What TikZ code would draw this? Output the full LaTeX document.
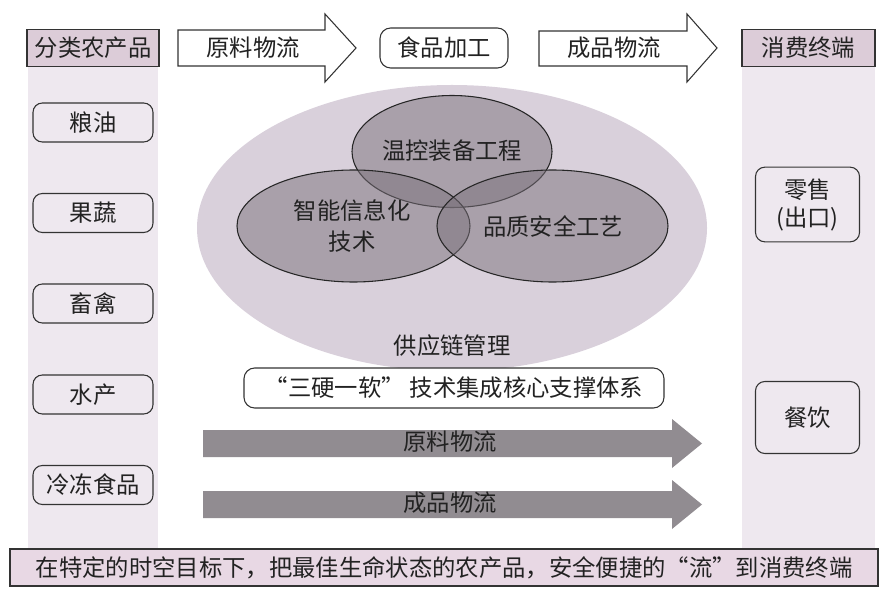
\documentclass[tikz,border=0pt]{standalone}
\usepackage{fontspec}
\setmainfont{Noto Sans CJK SC}
\usetikzlibrary{shapes.geometric}
\definecolor{colbg}{HTML}{EEE8EF}
\definecolor{headbg}{HTML}{DCCCD8}
\definecolor{bigell}{HTML}{D9D0DB}
\definecolor{smell}{HTML}{7A717B}
\definecolor{flowgray}{HTML}{918C91}
\definecolor{botbg}{HTML}{E8D8E4}
\definecolor{txt}{HTML}{222222}
\begin{document}
\begin{tikzpicture}[x=0.75pt,y=-0.75pt,
  every node/.style={text=txt,font=\fontsize{17.5pt}{21pt}\selectfont},
  headbox/.style={draw=black!80,line width=0.8pt,fill=headbg,minimum width=99pt,minimum height=27.75pt,inner sep=0pt},
  itembox/.style={draw=black!80,line width=0.8pt,rounded corners=7pt,minimum width=90pt,minimum height=29.25pt,inner sep=0pt},
  ritembox/.style={draw=black!80,line width=0.8pt,rounded corners=7pt,minimum width=78pt,inner sep=0pt,align=center},
  hollowarrow/.style={draw=black!80,line width=0.8pt,fill=white},
  grayarrow/.style={fill=flowgray,draw=none},
  venn/.style={ellipse,draw=black!85,line width=0.8pt,fill=smell,fill opacity=0.5,inner sep=0pt},
  lbl/.style={inner sep=0pt}]
\useasboundingbox (0,0) rectangle (891,591);
% columns
\fill[colbg] (28,30) rectangle (158,549);
\fill[colbg] (742,30) rectangle (875,549);
\node[headbox] (fenlei) at (93,48) {分类农产品};
\node[headbox,minimum width=99.75pt] (xiaofei) at (808.5,48) {消费终端};
% top hollow arrows
\draw[hollowarrow] (178,30) -- (325,30) -- (325,14) -- (356,48) -- (325,82) -- (325,66) -- (178,66) -- cycle;
\node[lbl] (yuanliao1) at (253,48) {原料物流};
\node[draw=black!80,line width=0.8pt,rounded corners=8pt,minimum width=96pt,minimum height=30pt,inner sep=0pt] (jiagong) at (444,48) {食品加工};
\draw[hollowarrow] (539,31) -- (687,31) -- (687,14) -- (717,48) -- (687,82) -- (687,66) -- (539,66) -- cycle;
\node[lbl] (chengpin1) at (614,48) {成品物流};
% left items
\node[itembox] (liangyou) at (93,122.5) {粮油};
\node[itembox] (guoshu) at (93,213) {果蔬};
\node[itembox] (xuqin) at (93,303.5) {畜禽};
\node[itembox] (shuichan) at (93,394.5) {水产};
\node[itembox] (lengdong) at (93,485) {冷冻食品};
% right items
\node[ritembox,minimum height=56pt] (lingshou) at (807.5,204.5) {\fontsize{17.5pt}{27.5pt}\selectfont 零售\\(出口)};
\node[ritembox,minimum height=54pt] (canyin) at (807.5,417.5) {餐饮};
% big ellipse
\node[ellipse,fill=bigell,minimum width=382.5pt,minimum height=214.5pt,inner sep=0pt] (bigE) at (452,228) {};
% venn ellipses
\node[venn,minimum width=150pt,minimum height=84pt] (wenkongE) at (452,151.5) {};
\node[venn,minimum width=174.75pt,minimum height=84pt] (zhinengE) at (353.5,226) {};
\node[venn,minimum width=173.25pt,minimum height=84pt] (pinzhiE) at (552.5,226) {};
\node[lbl] (wenkong) at (452,151) {温控装备工程};
\node[lbl,align=center,font=\fontsize{17.5pt}{23pt}\selectfont] (zhineng) at (352,226) {智能信息化\\技术};
\node[lbl] (pinzhi) at (553,227) {品质安全工艺};
\node[lbl] (gongying) at (452,346) {供应链管理};
% support box
\node[draw=black!80,line width=0.8pt,rounded corners=8pt,fill=white,minimum width=315pt,minimum height=30pt,inner sep=0pt] (sanying) at (454,388) {“三硬一软” 技术集成核心支撑体系};
% gray arrows
\fill[grayarrow] (203,430) -- (672,430) -- (672,419) -- (702,443.5) -- (672,468) -- (672,457) -- (203,457) -- cycle;
\node[lbl] (yuanliao2) at (450,442) {原料物流};
\fill[grayarrow] (203,491) -- (672,491) -- (672,480) -- (702,504.5) -- (672,529) -- (672,518) -- (203,518) -- cycle;
\node[lbl] (chengpin2) at (450,503) {成品物流};
% bottom box
\node[draw=black!80,line width=0.8pt,fill=botbg,minimum width=651pt,minimum height=27.75pt,inner sep=0pt,font=\fontsize{17.5pt}{20pt}\selectfont] (bottom) at (444,567.5) {在特定的时空目标下，把最佳生命状态的农产品，安全便捷的“流”到消费终端};
\end{tikzpicture}
\end{document}
